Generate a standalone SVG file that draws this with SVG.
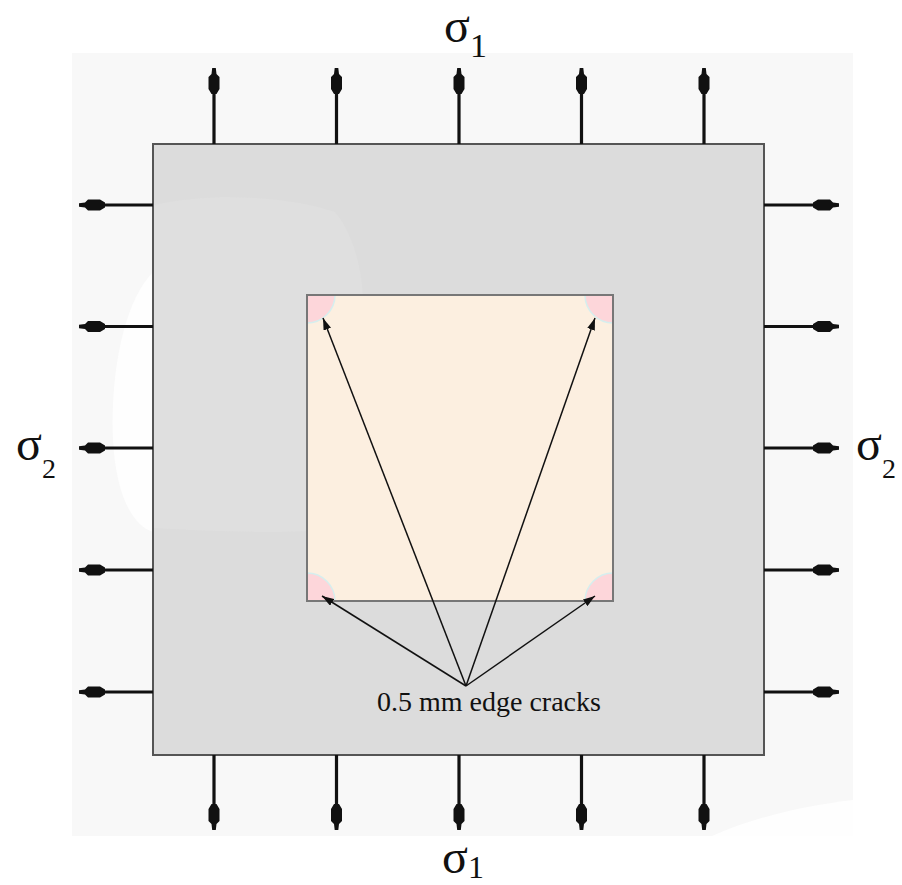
<svg xmlns="http://www.w3.org/2000/svg" xmlns:xlink="http://www.w3.org/1999/xlink" width="902" height="885" viewBox="0 0 902 885">
<style>
text{font-family:'Liberation Serif','Times New Roman','DejaVu Serif',serif;fill:#111}
.load{stroke:#111;stroke-width:3.2;fill:none}
.crack{stroke:#111;stroke-width:1.5;fill:none}
</style>
<defs>
<path id="ah" d="M-1.8,0 L1.8,0 L2.5,6 L5.5,9 L5.5,21 L2.5,26 L-2.5,26 L-5.5,21 L-5.5,9 L-2.5,6 Z" fill="#111"/>
<marker id="tri" viewBox="0 0 12 8" refX="12" refY="4" markerWidth="12" markerHeight="8" markerUnits="userSpaceOnUse" orient="auto">
<path d="M0,0 L12,4 L0,8 Z" fill="#111"/>
</marker>
</defs>
<rect width="902" height="885" fill="#ffffff"/>
<g id="background">
<rect x="72" y="53" width="781" height="783" fill="#f8f8f8"/>
<path d="M153,272 C125,300 110,370 113,440 C116,495 132,525 153,532 Z" fill="#fefefe"/>
<path d="M712,836 C760,815 810,805 853,800 L853,836 Z" fill="#fefefe"/>
</g>
<g id="plate">
<rect x="153" y="144" width="611" height="611" fill="#dcdcdc" stroke="#555" stroke-width="2"/>
<path d="M154,205 C210,192 290,196 335,212 C362,245 366,300 362,330 L360,528 C300,534 220,532 154,528 Z" fill="#dfdfdf"/>
</g>
<g id="inner-region">
<rect x="307" y="295" width="306" height="306" fill="#fcefe0"/>
<g fill="#fdd6da" stroke="#d6eeee" stroke-width="1.5">
<path d="M307,323 A28,28 0 0 0 335,295 L307,295 Z"/>
<path d="M585,295 A28,28 0 0 0 613,323 L613,295 Z"/>
<path d="M307,573 A28,28 0 0 1 335,601 L307,601 Z"/>
<path d="M585,601 A28,28 0 0 1 613,573 L613,601 Z"/>
</g>
<rect x="307" y="295" width="306" height="306" fill="none" stroke="#777" stroke-width="2"/>
</g>
<g id="connectors">
<g id="top-loads">
<path class="load" d="M214,144V92 M336.5,144V92 M459,144V92 M581.5,144V92 M704,144V92"/>
<use xlink:href="#ah" transform="translate(214,68)"/>
<use xlink:href="#ah" transform="translate(336.5,68)"/>
<use xlink:href="#ah" transform="translate(459,68)"/>
<use xlink:href="#ah" transform="translate(581.5,68)"/>
<use xlink:href="#ah" transform="translate(704,68)"/>
</g>
<g id="bottom-loads">
<path class="load" d="M214,755V806 M336.5,755V806 M459,755V806 M581.5,755V806 M704,755V806"/>
<use xlink:href="#ah" transform="translate(214,830) rotate(180)"/>
<use xlink:href="#ah" transform="translate(336.5,830) rotate(180)"/>
<use xlink:href="#ah" transform="translate(459,830) rotate(180)"/>
<use xlink:href="#ah" transform="translate(581.5,830) rotate(180)"/>
<use xlink:href="#ah" transform="translate(704,830) rotate(180)"/>
</g>
<g id="left-loads">
<path class="load" d="M153,205H104 M153,326.5H104 M153,448H104 M153,570H104 M153,692H104"/>
<use xlink:href="#ah" transform="translate(79,205) rotate(-90)"/>
<use xlink:href="#ah" transform="translate(79,326.5) rotate(-90)"/>
<use xlink:href="#ah" transform="translate(79,448) rotate(-90)"/>
<use xlink:href="#ah" transform="translate(79,570) rotate(-90)"/>
<use xlink:href="#ah" transform="translate(79,692) rotate(-90)"/>
</g>
<g id="right-loads">
<path class="load" d="M764,205H815 M764,326.5H815 M764,448H815 M764,570H815 M764,692H815"/>
<use xlink:href="#ah" transform="translate(839,205) rotate(90)"/>
<use xlink:href="#ah" transform="translate(839,326.5) rotate(90)"/>
<use xlink:href="#ah" transform="translate(839,448) rotate(90)"/>
<use xlink:href="#ah" transform="translate(839,570) rotate(90)"/>
<use xlink:href="#ah" transform="translate(839,692) rotate(90)"/>
</g>
<g id="crack-pointers">
<line class="crack" x1="466" y1="686" x2="323" y2="318" marker-end="url(#tri)"/>
<line class="crack" x1="466" y1="686" x2="595" y2="318" marker-end="url(#tri)"/>
<line class="crack" x1="466" y1="686" x2="322" y2="596" marker-end="url(#tri)"/>
<line class="crack" x1="466" y1="686" x2="595" y2="596" marker-end="url(#tri)"/>
</g>
</g>
<g id="labels">
<text id="sigma1-top" x="444" y="42" font-size="48">σ<tspan font-size="34" dy="15">1</tspan></text>
<text id="sigma1-bottom" x="442" y="873" font-size="48">σ<tspan font-size="32" dy="5">1</tspan></text>
<text id="sigma2-left" x="16" y="460" font-size="48">σ<tspan font-size="28" dy="18">2</tspan></text>
<text id="sigma2-right" x="856" y="460" font-size="48">σ<tspan font-size="28" dy="18">2</tspan></text>
<text id="crack-label" x="377" y="711" font-size="28">0.5 mm edge cracks</text>
</g>
</svg>
